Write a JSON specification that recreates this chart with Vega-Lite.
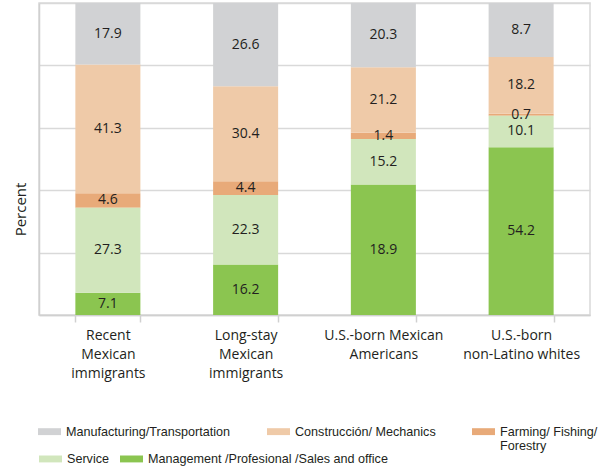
{
  "$schema": "https://vega.github.io/schema/vega-lite/v6.json",
  "autosize": {"type": "none"},
  "width": 551,
  "height": 312,
  "padding": {"left": 39, "top": 3, "right": 14, "bottom": 152},
  "background": "white",
  "config": {
    "view": {"stroke": "#D9D9D9", "strokeWidth": 1.5},
    "font": "Open Sans",
    "legend": {
      "title": null,
      "orient": "none",
      "direction": "horizontal",
      "symbolType": "M-1,-0.3H1V0.3H-1Z",
      "symbolSize": 529,
      "symbolStrokeWidth": 0,
      "symbolOpacity": 1,
      "labelFont": "Liberation Sans",
      "labelFontSize": 12.6,
      "labelColor": "#231F20",
      "labelOffset": 5,
      "labelLimit": 300
    }
  },
  "data": {
    "values": [
      {"group": "Recent Mexican immigrants", "category": "Management /Profesional /Sales and office", "value": 7.1, "label": "7.1"},
      {"group": "Recent Mexican immigrants", "category": "Service", "value": 27.3, "label": "27.3"},
      {"group": "Recent Mexican immigrants", "category": "Farming/ Fishing/ Forestry", "value": 4.6, "label": "4.6"},
      {"group": "Recent Mexican immigrants", "category": "Construcción/ Mechanics", "value": 41.3, "label": "41.3"},
      {"group": "Recent Mexican immigrants", "category": "Manufacturing/Transportation", "value": 19.7, "label": "17.9"},
      {"group": "Long-stay Mexican immigrants", "category": "Management /Profesional /Sales and office", "value": 16.2, "label": "16.2"},
      {"group": "Long-stay Mexican immigrants", "category": "Service", "value": 22.3, "label": "22.3"},
      {"group": "Long-stay Mexican immigrants", "category": "Farming/ Fishing/ Forestry", "value": 4.4, "label": "4.4"},
      {"group": "Long-stay Mexican immigrants", "category": "Construcción/ Mechanics", "value": 30.4, "label": "30.4"},
      {"group": "Long-stay Mexican immigrants", "category": "Manufacturing/Transportation", "value": 26.7, "label": "26.6"},
      {"group": "U.S.-born Mexican Americans", "category": "Management /Profesional /Sales and office", "value": 41.8, "label": "18.9"},
      {"group": "U.S.-born Mexican Americans", "category": "Service", "value": 14.6, "label": "15.2"},
      {"group": "U.S.-born Mexican Americans", "category": "Farming/ Fishing/ Forestry", "value": 2.0, "label": "1.4"},
      {"group": "U.S.-born Mexican Americans", "category": "Construcción/ Mechanics", "value": 21.0, "label": "21.2"},
      {"group": "U.S.-born Mexican Americans", "category": "Manufacturing/Transportation", "value": 20.6, "label": "20.3"},
      {"group": "U.S.-born non-Latino whites", "category": "Management /Profesional /Sales and office", "value": 53.8, "label": "54.2"},
      {"group": "U.S.-born non-Latino whites", "category": "Service", "value": 10.1, "label": "10.1"},
      {"group": "U.S.-born non-Latino whites", "category": "Farming/ Fishing/ Forestry", "value": 0.6, "label": "0.7"},
      {"group": "U.S.-born non-Latino whites", "category": "Construcción/ Mechanics", "value": 18.2, "label": "18.2"},
      {"group": "U.S.-born non-Latino whites", "category": "Manufacturing/Transportation", "value": 17.3, "label": "8.7"}
    ]
  },
  "transform": [
    {"calculate": "indexof(['Management /Profesional /Sales and office','Service','Farming/ Fishing/ Forestry','Construcción/ Mechanics','Manufacturing/Transportation'], datum.category)", "as": "stackOrder"},
    {"stack": "value", "groupby": ["group"], "sort": [{"field": "stackOrder", "order": "ascending"}], "as": ["v0", "v1"]},
    {"calculate": "(datum.v0 + datum.v1) / 2", "as": "mid"}
  ],
  "encoding": {
    "x": {
      "field": "group",
      "type": "nominal",
      "sort": ["Recent Mexican immigrants", "Long-stay Mexican immigrants", "U.S.-born Mexican Americans", "U.S.-born non-Latino whites"],
      "scale": {"paddingInner": 0.528, "paddingOuter": 0.264},
      "axis": {
        "title": null,
        "labelAngle": 0,
        "labelExpr": "datum.label == 'Recent Mexican immigrants' ? ['Recent','Mexican','immigrants'] : datum.label == 'Long-stay Mexican immigrants' ? ['Long-stay','Mexican','immigrants'] : datum.label == 'U.S.-born Mexican Americans' ? ['U.S.-born Mexican','Americans'] : datum.label == 'U.S.-born non-Latino whites' ? ['U.S.-born','non-Latino whites'] : ''",
        "labelFont": "Open Sans",
        "labelFontSize": 14,
        "labelColor": "#231F20",
        "labelLineHeight": 19,
        "labelBaseline": "top",
        "labelPadding": 6,
        "labelLimit": 200,
        "labelOverlap": false,
        "tickBand": "extent",
        "tickSize": 7,
        "tickColor": "#D0D0D0",
        "tickWidth": 1.5,
        "domainColor": "#D0D0D0",
        "domainWidth": 1.5
      }
    },
    "y": {
      "field": "v0",
      "type": "quantitative",
      "scale": {"domain": [0, 100], "nice": false},
      "axis": {
        "title": "Percent",
        "titleFont": "Open Sans",
        "titleFontSize": 15,
        "titleFontWeight": "normal",
        "titleColor": "#231F20",
        "titleAngle": -90,
        "titleX": -19,
        "titleY": 206,
        "titleAlign": "center",
        "titleBaseline": "middle",
        "values": [0, 20, 40, 60, 80, 100],
        "labels": false,
        "ticks": false,
        "grid": true,
        "gridColor": "#D9D9D9",
        "gridWidth": 1.5,
        "domainColor": "#D0D0D0",
        "domainWidth": 1.5
      }
    }
  },
  "layer": [
    {
      "transform": [{"filter": "datum.stackOrder >= 2"}],
      "mark": {"type": "bar"},
      "encoding": {
        "y2": {"field": "v1"},
        "color": {
          "field": "category",
          "type": "nominal",
          "scale": {
            "domain": ["Manufacturing/Transportation", "Construcción/ Mechanics", "Farming/ Fishing/ Forestry"],
            "range": ["#D1D2D4", "#EFCAA8", "#E8AA79"]
          },
          "legend": {
            "legendX": -1,
            "legendY": 417,
            "columnPadding": 36,
            "labelExpr": "datum.label == 'Farming/ Fishing/ Forestry' ? ['Farming/ Fishing/', 'Forestry'] : [datum.label, '']"
          }
        }
      }
    },
    {
      "transform": [{"filter": "datum.stackOrder <= 1"}],
      "mark": {"type": "bar"},
      "encoding": {
        "y2": {"field": "v1"},
        "fill": {
          "field": "category",
          "type": "nominal",
          "scale": {
            "domain": ["Service", "Management /Profesional /Sales and office"],
            "range": ["#D1E6BC", "#8BC550"]
          },
          "legend": {
            "legendX": 0,
            "legendY": 444,
            "columnPadding": 11
          }
        }
      }
    },
    {
      "mark": {"type": "text", "font": "Open Sans", "fontSize": 14, "color": "#231F20", "baseline": "middle", "align": "center"},
      "encoding": {
        "y": {"field": "mid", "type": "quantitative"},
        "text": {"field": "label", "type": "nominal"}
      }
    }
  ]
}
